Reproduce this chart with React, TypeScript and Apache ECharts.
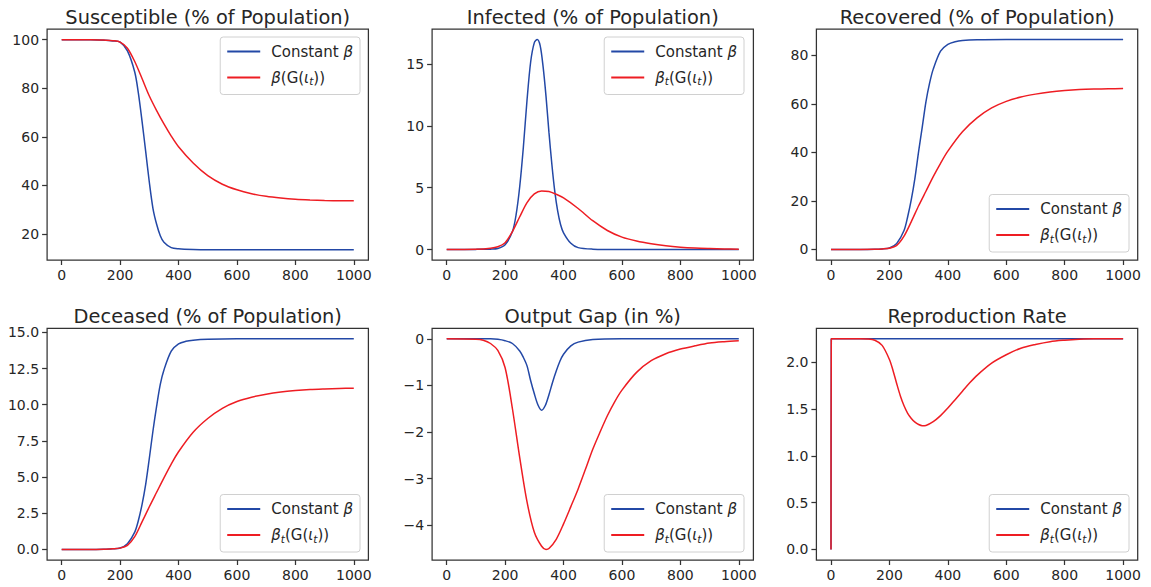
import React, { useEffect, useRef } from "react";
import * as echarts from "echarts";

const FONT = "'DejaVu Sans', sans-serif";
const TEXT = "#262626";
const FRAME = "#333333";
const BLUE = "#2348a6";
const RED = "#ee1d23";

const NAME_CONST = "Constant β";
const NAME_RED_S = "β(G(ιt))";
const NAME_RED = "βt(G(ιt))";

const titles = [
  "Susceptible (% of Population)",
  "Infected (% of Population)",
  "Recovered (% of Population)",
  "Deceased (% of Population)",
  "Output Gap (in %)",
  "Reproduction Rate",
];

const xTicks = [0, 200, 400, 600, 800, 1000];

// Susceptible
const sConstX = [0, 100, 150, 175, 200, 225, 250, 262.5, 275, 287.5, 300, 312.5, 325, 337.5, 350, 375, 400, 450, 500, 600, 800, 1000];
const sConst = [100, 100, 99.8, 99.5, 99.0, 95.4, 86.7, 78, 66.5, 54, 41.3, 30.5, 24, 19.3, 16.6, 14.4, 13.9, 13.6, 13.5, 13.5, 13.5, 13.5];
const redX = [0, 100, 150, 175, 200, 225, 250, 275, 300, 325, 350, 375, 400, 450, 500, 550, 600, 650, 700, 750, 800, 850, 900, 950, 1000];
const sRed = [100, 100, 99.8, 99.6, 99.0, 96.5, 91.0, 84.0, 76.8, 70.8, 65.3, 60.3, 55.9, 49.2, 44.0, 40.5, 38.2, 36.6, 35.5, 34.8, 34.3, 34.0, 33.8, 33.7, 33.7];

// Infected
const iConstX = [0, 100, 150, 175, 200, 225, 237.5, 250, 262.5, 275, 287.5, 300, 310, 320, 330, 340, 350, 360, 370, 380, 390, 400, 425, 450, 500, 600, 1000];
const iConst = [0, 0.01, 0.03, 0.08, 0.38, 1.45, 2.8, 5.1, 8.3, 12.1, 15.2, 16.75, 17.0, 16.5, 14.8, 12.4, 9.5, 6.9, 4.7, 3.1, 2.0, 1.35, 0.5, 0.15, 0.03, 0, 0];
const iRed = [0, 0.02, 0.1, 0.22, 0.55, 1.45, 2.65, 3.8, 4.5, 4.74, 4.7, 4.47, 4.17, 3.32, 2.33, 1.54, 1.0, 0.68, 0.46, 0.3, 0.19, 0.12, 0.08, 0.05, 0.03];

// Recovered
const rConstX = [0, 100, 150, 175, 200, 225, 250, 262.5, 275, 287.5, 300, 312.5, 325, 337.5, 350, 375, 400, 425, 450, 500, 600, 1000];
const rConst = [0, 0.01, 0.1, 0.25, 0.6, 2.5, 7.8, 13.5, 20.6, 29.5, 40.4, 50.5, 60.8, 68.5, 74.3, 81.7, 84.5, 85.6, 86.1, 86.4, 86.5, 86.5];
const rRed = [0, 0.02, 0.1, 0.25, 0.55, 1.7, 5.5, 11.5, 18.0, 24.0, 30.0, 35.5, 40.5, 48.5, 54.2, 58.3, 61.0, 62.8, 64.0, 64.9, 65.5, 65.9, 66.1, 66.2, 66.3];

// Deceased
const dConst = [0, 0, 0.02, 0.04, 0.1, 0.4, 1.2, 2.0, 3.1, 4.5, 6.3, 8.2, 9.9, 11.4, 12.4, 13.7, 14.2, 14.38, 14.46, 14.52, 14.55, 14.55];
const dRed = [0, 0, 0.02, 0.04, 0.09, 0.28, 0.88, 1.9, 2.95, 3.95, 4.95, 5.9, 6.75, 8.1, 9.05, 9.75, 10.22, 10.52, 10.73, 10.88, 10.98, 11.05, 11.09, 11.12, 11.14];

// Output gap
const gConstX = [0, 150, 175, 200, 225, 250, 262.5, 275, 287.5, 300, 312.5, 325, 337.5, 350, 362.5, 375, 387.5, 400, 425, 450, 500, 600, 1000];
const gConst = [0, 0, -0.01, -0.04, -0.1, -0.26, -0.4, -0.58, -0.9, -1.18, -1.42, -1.53, -1.43, -1.2, -0.93, -0.69, -0.48, -0.33, -0.15, -0.07, -0.015, 0, 0];
const gRedX = [0, 100, 125, 150, 175, 200, 225, 250, 275, 300, 325, 340, 350, 375, 400, 425, 450, 475, 500, 525, 550, 575, 600, 650, 700, 750, 800, 850, 900, 950, 1000];
const gRed = [0, -0.01, -0.03, -0.1, -0.25, -0.62, -1.5, -2.55, -3.5, -4.15, -4.45, -4.52, -4.5, -4.3, -3.97, -3.6, -3.22, -2.8, -2.37, -2.0, -1.65, -1.35, -1.1, -0.72, -0.47, -0.32, -0.22, -0.15, -0.09, -0.06, -0.04];

// Reproduction rate
const rrConstX = [0, 1, 1000];
const rrConst = [0, 2.25, 2.25];
const rrRedX = [0, 1, 50, 100, 125, 150, 175, 200, 212.5, 225, 237.5, 250, 262.5, 275, 287.5, 300, 312.5, 325, 350, 375, 400, 425, 450, 475, 500, 550, 600, 650, 700, 750, 800, 850, 900, 1000];
const rrRed = [0, 2.25, 2.25, 2.25, 2.248, 2.235, 2.18, 2.03, 1.91, 1.77, 1.64, 1.535, 1.455, 1.4, 1.36, 1.335, 1.322, 1.325, 1.365, 1.43, 1.51, 1.6, 1.69, 1.78, 1.86, 1.99, 2.08, 2.15, 2.19, 2.22, 2.235, 2.245, 2.25, 2.25];

// y axis ranges and ticks
const yRanges = [
  [9.3, 104.4],
  [-0.85, 17.85],
  [-4.33, 90.83],
  [-0.73, 15.28],
  [-4.745, 0.226],
  [-0.1125, 2.3625],
];
const yTicks = [
  [20, 40, 60, 80, 100],
  [0, 5, 10, 15],
  [0, 20, 40, 60, 80],
  [0, 2.5, 5, 7.5, 10, 12.5, 15],
  [-4, -3, -2, -1, 0],
  [0, 0.5, 1, 1.5, 2],
];
const yDecimals = [0, 0, 0, 1, 0, 1];

const zip = (xs: number[], ys: number[]) => xs.map((x, i) => [x, ys[i]]);

const seriesData: [number[], number[], number[], number[], string][] = [
  [sConstX, sConst, redX, sRed, NAME_RED_S],
  [iConstX, iConst, redX, iRed, NAME_RED],
  [rConstX, rConst, redX, rRed, NAME_RED],
  [rConstX, dConst, redX, dRed, NAME_RED],
  [gConstX, gConst, gRedX, gRed, NAME_RED],
  [rrConstX, rrConst, rrRedX, rrRed, NAME_RED],
];

// layout
const LEFTS = [47.1, 432.1, 816.4];
const WIDTH = 321.3;
const TOPS = [29, 328.3];
const HEIGHTS = [231, 231.7];
const TITLE_Y = [17, 316.5];
const legendPos = [
  { right: 791, top: 37 },
  { right: 407, top: 37 },
  { right: 22, bottom: 335 },
  { right: 791, bottom: 35 },
  { right: 407, bottom: 35 },
  { right: 22, bottom: 35 },
];

const richBase = { fontFamily: FONT, fontSize: 15, color: TEXT, lineHeight: 18 };
const rich = {
  n: { ...richBase },
  i: { ...richBase, fontStyle: "italic" },
  s: { ...richBase, fontSize: 10.5, fontStyle: "italic", verticalAlign: "bottom" },
};
const legendLabel: Record<string, string> = {
  [NAME_CONST]: "{n|Constant }{i|β}",
  [NAME_RED_S]: "{i|β}{n|(G(}{i|ι}{s|t}{n|))}",
  [NAME_RED]: "{i|β}{s|t}{n|(G(}{i|ι}{s|t}{n|))}",
};

export default function App() {
  const ref = useRef<HTMLDivElement>(null);
  useEffect(() => {
    if (!ref.current) return;
    const chart = echarts.init(ref.current, undefined, { renderer: "svg" });
    const grid: any[] = [];
    const xAxis: any[] = [];
    const yAxis: any[] = [];
    const series: any[] = [];
    const legend: any[] = [];
    const graphic: any[] = [];
    for (let p = 0; p < 6; p++) {
      const col = p % 3;
      const row = Math.floor(p / 3);
      grid.push({
        left: LEFTS[col],
        top: TOPS[row],
        width: WIDTH,
        height: HEIGHTS[row],
        show: true,
        borderColor: FRAME,
        borderWidth: 1.25,
        backgroundColor: "#ffffff",
      });
      xAxis.push({
        type: "value",
        gridIndex: p,
        position: "bottom",
        min: -50,
        max: 1050,
        axisLine: { show: false, onZero: false },
        splitLine: { show: false },
        axisTick: { show: true, length: 5, lineStyle: { color: FRAME, width: 1.25 }, customValues: xTicks },
        axisLabel: {
          customValues: xTicks,
          fontFamily: FONT,
          fontSize: 14,
          color: TEXT,
          margin: 8,
          formatter: (v: number) => String(v),
        },
      });
      const dec = yDecimals[p];
      yAxis.push({
        type: "value",
        gridIndex: p,
        position: "left",
        min: yRanges[p][0],
        max: yRanges[p][1],
        axisLine: { show: false, onZero: false },
        splitLine: { show: false },
        axisTick: { show: true, length: 5, lineStyle: { color: FRAME, width: 1.25 }, customValues: yTicks[p] },
        axisLabel: {
          customValues: yTicks[p],
          fontFamily: FONT,
          fontSize: 14,
          color: TEXT,
          margin: 8,
          formatter: (v: number) => {
            const s = Math.abs(v).toFixed(dec);
            return v < 0 ? "\u2212" + s : s;
          },
        },
      });
      const [bx, by, rx, ry, redName] = seriesData[p];
      series.push({
        type: "line",
        name: NAME_CONST,
        xAxisIndex: p,
        yAxisIndex: p,
        data: zip(bx, by),
        symbol: "none",
        showSymbol: false,
        smooth: p === 5 ? false : 0.3,
        lineStyle: { width: 1.5, color: BLUE },
        itemStyle: { color: BLUE },
        z: 2,
      });
      series.push({
        type: "line",
        name: redName,
        xAxisIndex: p,
        yAxisIndex: p,
        data: zip(rx, ry),
        symbol: "none",
        showSymbol: false,
        smooth: 0.3,
        lineStyle: { width: 1.5, color: RED },
        itemStyle: { color: RED },
        z: 3,
      });
      legend.push({
        show: true,
        data: [NAME_CONST, redName],
        ...legendPos[p],
        orient: "vertical",
        itemWidth: 33,
        itemHeight: 14,
        itemGap: 11,
        padding: [7, 7, 8, 6],
        borderColor: "#d0d0d0",
        borderWidth: 1,
        borderRadius: 3,
        backgroundColor: "#ffffff",
        selectedMode: false,
        itemStyle: { opacity: 0 },
        textStyle: { fontFamily: FONT, fontSize: 15, color: TEXT, padding: [0, 0, 0, 6], rich },
        formatter: (name: string) => legendLabel[name] || name,
      });
      graphic.push({
        type: "text",
        x: LEFTS[col] + WIDTH / 2,
        y: TITLE_Y[row],
        silent: true,
        style: {
          text: titles[p],
          fontFamily: FONT,
          fontSize: 19.4,
          fill: TEXT,
          textAlign: "center",
          textVerticalAlign: "middle",
          verticalAlign: "middle",
        },
      });
    }
    chart.setOption({
      animation: false,
      backgroundColor: "#ffffff",
      grid,
      xAxis,
      yAxis,
      series,
      legend,
      graphic,
    });
    return () => chart.dispose();
  }, []);
  return (
    <div
      ref={ref}
      style={{ position: "fixed", left: 0, top: 0, width: 1151, height: 587 }}
    />
  );
}
